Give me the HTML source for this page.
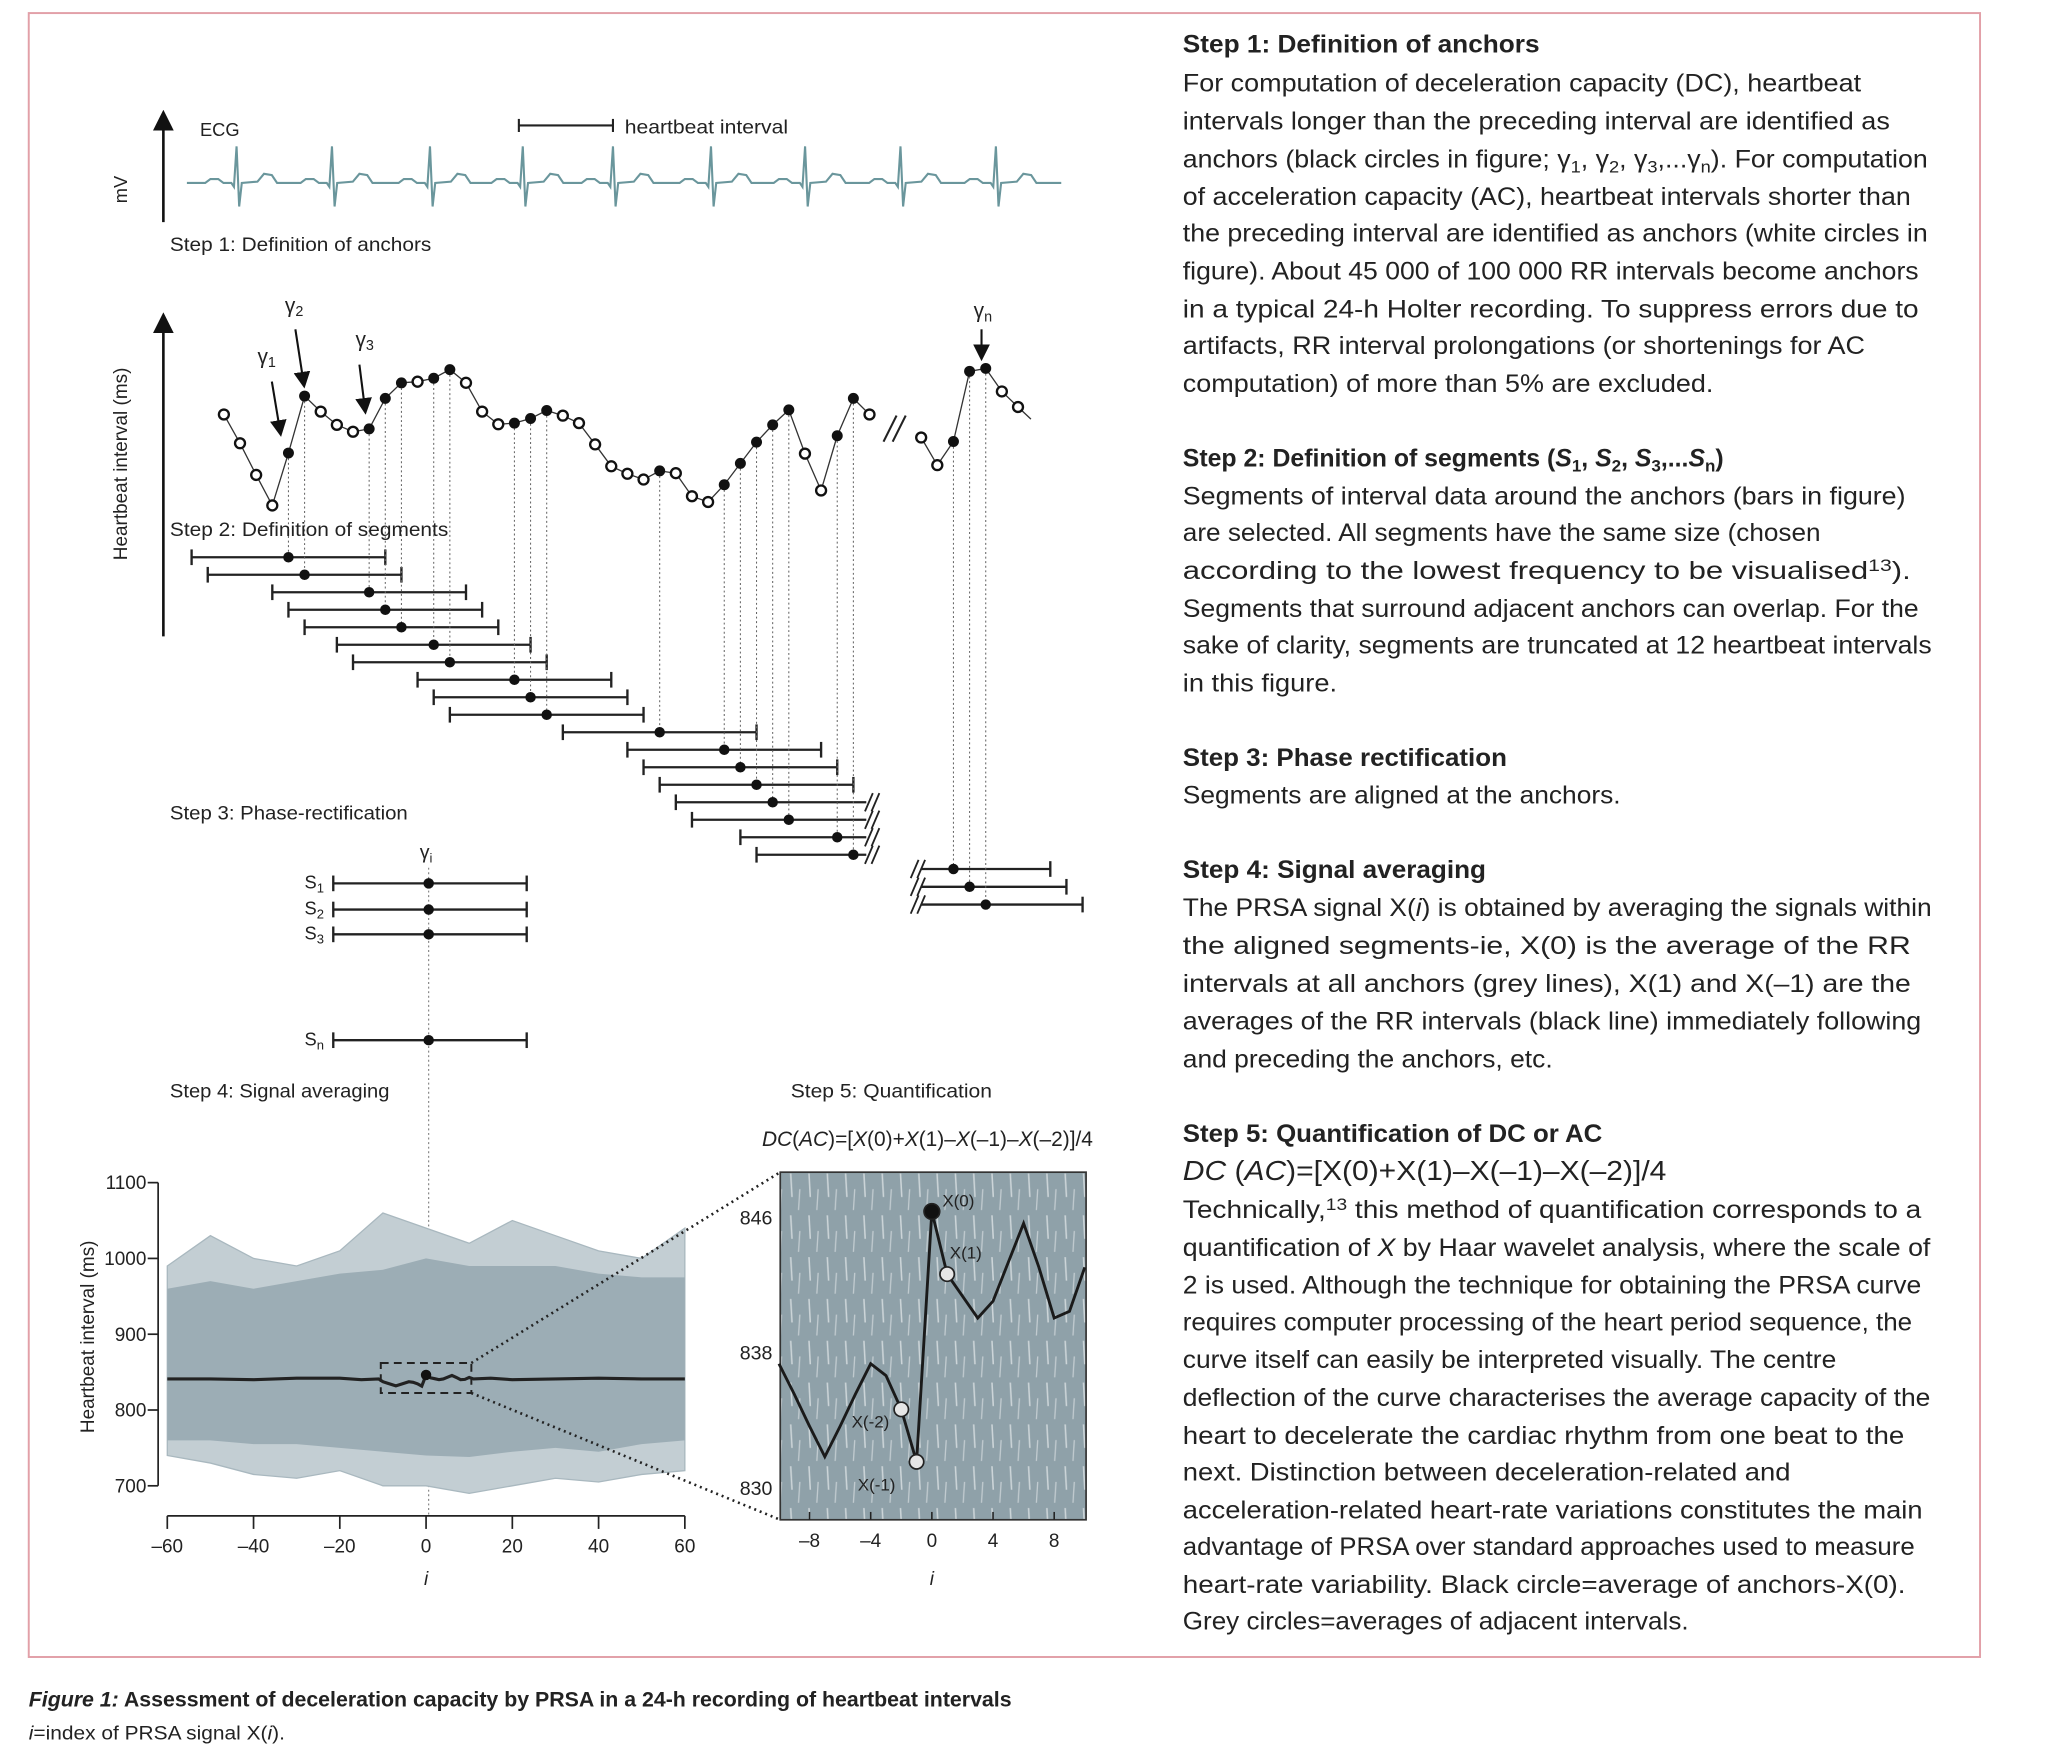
<!DOCTYPE html>
<html><head><meta charset="utf-8"><style>
html,body{margin:0;padding:0;background:#fff;}
svg{display:block;}
text{font-family:"Liberation Sans",sans-serif;fill:#222;}
</style></head><body>
<svg id="fig" xmlns="http://www.w3.org/2000/svg" width="2048" height="1755" viewBox="0 0 1567 1343" preserveAspectRatio="none">
<defs>
<pattern id="streaks" width="14" height="32" patternUnits="userSpaceOnUse">
<line x1="3" y1="2" x2="4" y2="20" stroke="#ffffff" stroke-opacity="0.55" stroke-width="1.2"/>
<line x1="10" y1="14" x2="9" y2="30" stroke="#ffffff" stroke-opacity="0.45" stroke-width="1"/>
</pattern>
<marker id="arr" markerWidth="8" markerHeight="8" refX="4" refY="4" orient="auto"><path d="M0,0 L8,4 L0,8 z" fill="#111"/></marker>
</defs>
<rect x="22" y="10" width="1493" height="1258" fill="none" stroke="#e2a0a8" stroke-width="1.5"/>
<g id="g"></g>
</svg>
<script>
// ---------- data ----------
const ecgBeats = [181, 254, 329, 400, 469, 544, 616, 689, 762];
const rrPart1 = [580,530,475,422,513,612,585,562,550,555,608,635,637,643,658,635,585,563,565,573,587,578,565,528,490,477,467,482,478,438,428,458,495,532,562,588,512,448,543,608,580];
const anchorPart1 = [0,0,0,0,1,1,0,0,0,1,1,1,0,1,1,0,0,0,1,1,1,0,0,0,0,0,0,1,0,0,0,1,1,1,1,1,0,0,1,1,0];
const rrPart2 = [540,492,533,655,660,620,593];
const anchorPart2 = [0,0,1,1,1,0,0];
const gridI = [-60,-50,-40,-30,-20,-10,0,10,20,30,40,50,60];
const outerUpper = [990,1030,1000,990,1010,1060,1040,1020,1050,1030,1010,1000,1040];
const outerLower = [740,730,715,710,720,700,700,690,700,710,705,715,720];
const coreUpper = [960,970,960,970,980,985,1000,990,990,990,980,975,975];
const coreLower = [760,760,755,755,750,745,740,738,745,750,745,755,760];
const meanOuterI = [-60,-50,-40,-30,-20,-15,-11,11,15,20,30,40,50,60];
const meanOuterV = [841,841,840,842,842,840,841,841,842,840,841,842,841,841];
const insetI = [-10,-9,-8,-7,-6,-5,-4,-3,-2,-1,0,1,2,3,4,5,6,7,8,9,10];
const insetV = [837.3,835.5,833.6,831.8,833.6,835.5,837.3,836.6,834.6,831.5,846.3,842.6,841.3,840.0,841.0,843.3,845.6,843.0,840.0,840.4,843.0];
const yTicks4 = [1100,1000,900,800,700];
const xTicks4 = [-60,-40,-20,0,20,40,60];
const yTicks5 = [846,838,830];
const xTicks5 = [-8,-4,0,4,8];

const NS = "http://www.w3.org/2000/svg";
const G = document.getElementById('g');
function mk(tag, attrs, parent){const e=document.createElementNS(NS,tag);for(const k in attrs)e.setAttribute(k,attrs[k]);(parent||G).appendChild(e);return e;}
function txt(x,y,s,size,opts){opts=opts||{};const t=mk('text',{x:x,y:y,'font-size':size});
 if(opts.anchor)t.setAttribute('text-anchor',opts.anchor);
 if(opts.weight)t.setAttribute('font-weight',opts.weight);
 if(opts.style)t.setAttribute('font-style',opts.style);
 if(opts.family)t.setAttribute('font-family',opts.family);
 if(opts.len){t.setAttribute('textLength',opts.len);t.setAttribute('lengthAdjust','spacingAndGlyphs');}
 if(opts.rot)t.setAttribute('transform','rotate(-90 '+x+' '+y+')');
 if(opts.html)t.innerHTML=s;else t.textContent=s;return t;}

// ---------- ECG ----------
let a=mk('line',{x1:125,y1:170,x2:125,y2:92,stroke:'#111','stroke-width':2,'marker-end':'url(#arr)'});

let t=txt(153,104,'ECG',14);
t=txt(97,145,'mV',14,{anchor:'middle',rot:true});
let d='M143,140';
ecgBeats.forEach(b=>{d+=` L${b-24},140 L${b-20},137 L${b-14},137 L${b-10},140 L${b-4},140 L${b-2},143 L${b},112 L${b+2},158 L${b+4},140 L${b+16},139 L${b+21},133 L${b+27},134 L${b+31},140`;});
d+=' L812,140';
let ecg=mk('path',{d:d,fill:'none',stroke:'#6a969c','stroke-width':1.6});

mk('line',{x1:397,y1:96,x2:469,y2:96,stroke:'#222','stroke-width':1.6});
mk('line',{x1:397,y1:91,x2:397,y2:101,stroke:'#222','stroke-width':1.6});
mk('line',{x1:469,y1:91,x2:469,y2:101,stroke:'#222','stroke-width':1.6});
t=txt(478,102,'heartbeat interval',14.5,{len:125});
t=txt(130,192,'Step 1: Definition of anchors',14.5,{len:200});

// ---------- Step 2 ----------
a=mk('line',{x1:125,y1:487,x2:125,y2:247,stroke:'#111','stroke-width':2,'marker-end':'url(#arr)'});

t=txt(97,355,'Heartbeat interval (ms)',14.5,{anchor:'middle',rot:true});
const kx=k=>171.3+k*12.35;
const ry=v=>(1300-v)/2.27;
const part2Off=43.2;
const rowY=r=>(968+r*30.4)/2.27;
let p1=rrPart1.map((v,k)=>kx(k)+','+ry(v)).join(' ');
let l=mk('polyline',{points:p1,fill:'none',stroke:'#333','stroke-width':1});
let p2=rrPart2.map((v,j)=>kx(part2Off+j)+','+ry(v)).join(' ')+' '+kx(part2Off+rrPart2.length-0.2)+','+ry(572);
l=mk('polyline',{points:p2,fill:'none',stroke:'#333','stroke-width':1});
mk('line',{x1:676,y1:338,x2:686,y2:318,stroke:'#222','stroke-width':1.6});
mk('line',{x1:683,y1:338,x2:693,y2:318,stroke:'#222','stroke-width':1.6});
const anchors=[];
rrPart1.forEach((v,k)=>{if(anchorPart1[k])anchors.push({k:k,v:v,p:1});});
const anchors2=[];
rrPart2.forEach((v,j)=>{if(anchorPart2[j])anchors2.push({k:part2Off+j,v:v,p:2});});
function slash(x,y){mk('line',{x1:x-4,y1:y+7,x2:x+2,y2:y-7,stroke:'#222','stroke-width':1.4});mk('line',{x1:x+1,y1:y+7,x2:x+7,y2:y-7,stroke:'#222','stroke-width':1.4});}
function bar(x1,x2,y,tl,tr,name){const b=mk('line',{x1:x1,y1:y,x2:x2,y2:y,stroke:'#222','stroke-width':1.8});
 if(tl)mk('line',{x1:x1,y1:y-6,x2:x1,y2:y+6,stroke:'#222','stroke-width':1.8});
 if(tr)mk('line',{x1:x2,y1:y-6,x2:x2,y2:y+6,stroke:'#222','stroke-width':1.8});}
anchors.forEach((an,r)=>{const y=rowY(r),x=kx(an.k);
 mk('line',{x1:x,y1:ry(an.v)+4,x2:x,y2:y,stroke:'#666','stroke-width':0.8,'stroke-dasharray':'1.5 2'});
 const right=an.k+6>39.8?39.8:an.k+6;
 bar(kx(an.k-6),kx(right),y,true,an.k+6<=39.8,'segment-bar');
 if(an.k+6>39.8)slash(kx(right)+3,y);
 const c=mk('circle',{cx:x,cy:y,r:4,fill:'#111'});});
anchors2.forEach((an,r)=>{const y=665+r*13.6,x=kx(an.k);
 mk('line',{x1:x,y1:ry(an.v)+4,x2:x,y2:y,stroke:'#666','stroke-width':0.8,'stroke-dasharray':'1.5 2'});
 bar(kx(part2Off),kx(an.k+6),y,false,true,'segment-bar');
 slash(kx(part2Off)-4,y);
 const c=mk('circle',{cx:x,cy:y,r:4,fill:'#111'});});
rrPart1.forEach((v,k)=>{const c=mk('circle',{cx:kx(k),cy:ry(v),r:anchorPart1[k]?4.2:3.8,fill:anchorPart1[k]?'#111':'#fff',stroke:'#111','stroke-width':anchorPart1[k]?0:1.8});
 });
rrPart2.forEach((v,j)=>{const c=mk('circle',{cx:kx(part2Off+j),cy:ry(v),r:anchorPart2[j]?4.2:3.8,fill:anchorPart2[j]?'#111':'#fff',stroke:'#111','stroke-width':anchorPart2[j]?0:1.8});
 });
[[197,278,'γ<tspan font-size="11" dy="3">1</tspan>',[208,292,214,328]],[218,239,'γ<tspan font-size="11" dy="3">2</tspan>',[226,252,232,291]],[272,265,'γ<tspan font-size="11" dy="3">3</tspan>',[275,279,279,311]],[745,243,'γ<tspan font-size="11" dy="3">n</tspan>',[751,252,751,270]]].forEach(g=>{
 const tt=txt(g[0],g[1],g[2],16,{html:true});
 const ar=mk('line',{x1:g[3][0],y1:g[3][1],x2:g[3][2],y2:g[3][3],stroke:'#111','stroke-width':1.6,'marker-end':'url(#arr)'});});
t=txt(130,410,'Step 2: Definition of segments',14.5,{len:213});
t=txt(130,627,'Step 3: Phase-rectification',14.5,{len:182});

// ---------- Step 3 ----------
t=txt(326,657,'γ<tspan font-size="10" dy="3">i</tspan>',15,{anchor:'middle',html:true});
mk('line',{x1:328,y1:664,x2:328,y2:1160,stroke:'#777','stroke-width':0.8,'stroke-dasharray':'1.5 2'});
[[676,'1'],[696,'2'],[715,'3'],[796,'n']].forEach(s=>{bar(255,403,s[0],true,true,'aligned-segment');
 const c=mk('circle',{cx:328,cy:s[0],r:4,fill:'#111'});
 const tt=txt(233,s[0]+4,'S<tspan font-size="10" dy="3">'+s[1]+'</tspan>',14,{html:true});});

t=txt(130,840,'Step 4: Signal averaging',14.5,{len:168});
t=txt(605,840,'Step 5: Quantification',14.5,{len:154});
t=txt(583,877,'<tspan font-style="italic">DC</tspan>(<tspan font-style="italic">AC</tspan>)=[<tspan font-style="italic">X</tspan>(0)+<tspan font-style="italic">X</tspan>(1)–<tspan font-style="italic">X</tspan>(–1)–<tspan font-style="italic">X</tspan>(–2)]/4',16,{html:true,family:'"Liberation Serif",serif'});


// ---------- Chart 4 ----------
const xS=i=>326+i*(524-128)/120;
const yS=v=>1021+(900-v)*0.58;
const env=(up,lo)=>gridI.map((i,n)=>xS(i)+','+yS(up[n])).join(' ')+' '+gridI.slice().reverse().map((i,n)=>xS(i)+','+yS(lo[lo.length-1-n])).join(' ');
let e=mk('polygon',{points:env(outerUpper,outerLower),fill:'#c3ced3',stroke:'#a9b8bf','stroke-width':1});
e=mk('polygon',{points:env(coreUpper,coreLower),fill:'#9cadb5'});
const meanPts=[];
meanOuterI.forEach((i,n)=>meanPts.push([i,meanOuterV[n]]));
insetI.forEach((i,n)=>meanPts.push([i,insetV[n]]));
meanPts.sort((p,q)=>p[0]-q[0]);
l=mk('polyline',{points:meanPts.map(p=>xS(p[0])+','+yS(p[1])).join(' '),fill:'none',stroke:'#222','stroke-width':2.4});

let cc=mk('circle',{cx:xS(0),cy:yS(insetV[10]),r:4,fill:'#111'});
let dr=mk('rect',{x:xS(-10.5),y:1043,width:xS(10.5)-xS(-10.5),height:23,fill:'none',stroke:'#222','stroke-width':1.5,'stroke-dasharray':'6 4'});

l=mk('line',{x1:121,y1:yS(1100),x2:121,y2:yS(700),stroke:'#222','stroke-width':1.3});
yTicks4.forEach(v=>{mk('line',{x1:113,y1:yS(v),x2:121,y2:yS(v),stroke:'#222','stroke-width':1.3});
 const tt=txt(112,yS(v)+5,String(v),14.5,{anchor:'end'});});
t=txt(72,1023,'Heartbeat interval (ms)',14.5,{anchor:'middle',rot:true});
l=mk('line',{x1:xS(-60),y1:1160,x2:xS(60),y2:1160,stroke:'#222','stroke-width':1.3});
xTicks4.forEach(v=>{mk('line',{x1:xS(v),y1:1160,x2:xS(v),y2:1170,stroke:'#222','stroke-width':1.3});
 const tt=txt(xS(v),1188,v<0?'–'+(-v):String(v),14.5,{anchor:'middle'});});
t=txt(326,1213,'i',14.5,{anchor:'middle',style:'italic'});

// ---------- Inset ----------
const ix=i=>713+i*11.7;
const iy=v=>931+(846-v)*12.94;
mk('line',{x1:xS(10.5),y1:1043,x2:597,y2:897,stroke:'#222','stroke-width':2,'stroke-dasharray':'1.5 3'});
mk('line',{x1:xS(10.5),y1:1066,x2:597,y2:1163,stroke:'#222','stroke-width':2,'stroke-dasharray':'1.5 3'});
let ir=mk('rect',{x:597,y:897,width:234,height:266,fill:'#8fa1a9'});
mk('rect',{x:597,y:897,width:234,height:266,fill:'url(#streaks)'});
mk('rect',{x:597,y:897,width:234,height:266,fill:'none',stroke:'#333','stroke-width':1.3});
l=mk('polyline',{points:insetI.map((i,n)=>ix(i)+','+iy(insetV[n])).join(' '),fill:'none',stroke:'#1a1a1a','stroke-width':2.2});

const pt={};insetI.forEach((i,n)=>pt[i]=insetV[n]);
[[0,'#111','X(0)',8,-4],[1,'#e6e6e6','X(1)',2,-12],[-2,'#e6e6e6','X(-2)',-38,14],[-1,'#e6e6e6','X(-1)',-45,22]].forEach(q=>{
 const c=mk('circle',{cx:ix(q[0]),cy:iy(pt[q[0]]),r:q[0]==0?6:5.5,fill:q[1],stroke:'#222','stroke-width':1.3});
 const tt=txt(ix(q[0])+q[3],iy(pt[q[0]])+q[4],q[2],13);});
yTicks5.forEach(v=>{const tt=txt(591,iy(v)+6,String(v),15,{anchor:'end'});});
xTicks5.forEach(v=>{mk('line',{x1:ix(v),y1:1163,x2:ix(v),y2:1157,stroke:'#222','stroke-width':1.2});
 const tt=txt(ix(v),1184,v<0?'–'+(-v):String(v),14.5,{anchor:'middle'});});
t=txt(713,1213,'i',14.5,{anchor:'middle',style:'italic'});

// ---------- Right text ----------
const lines=[
[33,'Step 1: Definition of anchors',1178,'h'],
[63,'For computation of deceleration capacity (DC), heartbeat',1424],
[92,'intervals longer than the preceding interval are identified as',1446],
[121,'anchors (black circles in figure; γ<tspan font-size="13" dy="4">1</tspan><tspan dy="-4">, γ</tspan><tspan font-size="13" dy="4">2</tspan><tspan dy="-4">, γ</tspan><tspan font-size="13" dy="4">3</tspan><tspan dy="-4">,...γ</tspan><tspan font-size="13" dy="4">n</tspan><tspan dy="-4">). For computation</tspan>',1475],
[150,'of acceleration capacity (AC), heartbeat intervals shorter than',1462],
[178,'the preceding interval are identified as anchors (white circles in',1475],
[207,'figure). About 45 000 of 100 000 RR intervals become anchors',1468],
[236,'in a typical 24-h Holter recording. To suppress errors due to',1468],
[264,'artifacts, RR interval prolongations (or shortenings for AC',1427],
[293,'computation) of more than 5% are excluded.',1311],
[350,'Step 2: Definition of segments (<tspan font-style="italic">S</tspan><tspan font-size="13" dy="4">1</tspan><tspan dy="-4">, </tspan><tspan font-style="italic">S</tspan><tspan font-size="13" dy="4">2</tspan><tspan dy="-4">, </tspan><tspan font-style="italic">S</tspan><tspan font-size="13" dy="4">3</tspan><tspan dy="-4">,...</tspan><tspan font-style="italic">S</tspan><tspan font-size="13" dy="4">n</tspan><tspan dy="-4">)</tspan>',0,'h'],
[379,'Segments of interval data around the anchors (bars in figure)',1458],
[407,'are selected. All segments have the same size  (chosen',1393],
[436,'according to the lowest frequency to be visualised<tspan font-size="13" dy="-6">13</tspan><tspan dy="6">).</tspan>',1462],
[465,'Segments that surround adjacent anchors can overlap. For the',1468],
[493,'sake of clarity, segments are truncated at 12 heartbeat intervals',1478],
[522,'in this figure.',1023],
[579,'Step 3: Phase rectification',1153,'h'],
[608,'Segments are aligned at the anchors.',1240],
[665,'Step 4: Signal averaging',1137,'h'],
[694,'The PRSA signal X(<tspan font-style="italic">i</tspan>) is obtained by averaging the signals within',1478],
[723,'the aligned segments-ie, X(0) is the average of the RR',1462],
[752,'intervals at all anchors (grey lines), X(1) and X(–1) are the',1462],
[781,'averages of the RR intervals (black line) immediately following',1470],
[810,'and preceding the anchors, etc.',1188],
[867,'Step 5: Quantification of DC or AC',1226,'h'],
[896,'<tspan font-style="italic">DC</tspan> (<tspan font-style="italic">AC</tspan>)=[X(0)+X(1)–X(–1)–X(–2)]/4',1275,'f'],
[925,'Technically,<tspan font-size="13" dy="-6">13</tspan><tspan dy="6"> this method of quantification corresponds to a</tspan>',1470],
[954,'quantification of <tspan font-style="italic">X</tspan> by Haar wavelet analysis, where the scale of',1477],
[983,'2 is used. Although the technique for obtaining the PRSA curve',1470],
[1011,'requires computer processing of the heart period sequence, the',1463],
[1040,'curve itself can easily be interpreted visually. The centre',1405],
[1069,'deflection of the curve characterises the average capacity of the',1477],
[1098,'heart to decelerate the cardiac rhythm from one beat to the',1457],
[1126,'next. Distinction between deceleration-related and',1370],
[1155,'acceleration-related heart-rate variations constitutes the main',1471],
[1183,'advantage of PRSA over standard approaches used to measure',1465],
[1212,'heart-rate variability. Black circle=average of anchors-X(0).',1458],
[1240,'Grey circles=averages of adjacent intervals.',1292]];
lines.forEach(L=>{const o={html:true};
 if(L[2])o.len=L[2]-905;
 if(L[3]=='h')o.weight='bold';
 if(L[3]=='f')o.family='"Liberation Serif",serif';
 const tt=txt(905,L[0]+7,L[1],L[3]=='f'?21:19,o);
 
 });

// ---------- Caption ----------
t=txt(22,1306,'<tspan font-style="italic">Figure 1:</tspan> Assessment of deceleration capacity by PRSA in a 24-h recording of heartbeat intervals',16,{html:true,weight:'bold',len:752});

t=txt(22,1331,'<tspan font-style="italic">i</tspan>=index of PRSA signal X(<tspan font-style="italic">i</tspan>).',15,{html:true,len:196});

</script>
</body></html>
